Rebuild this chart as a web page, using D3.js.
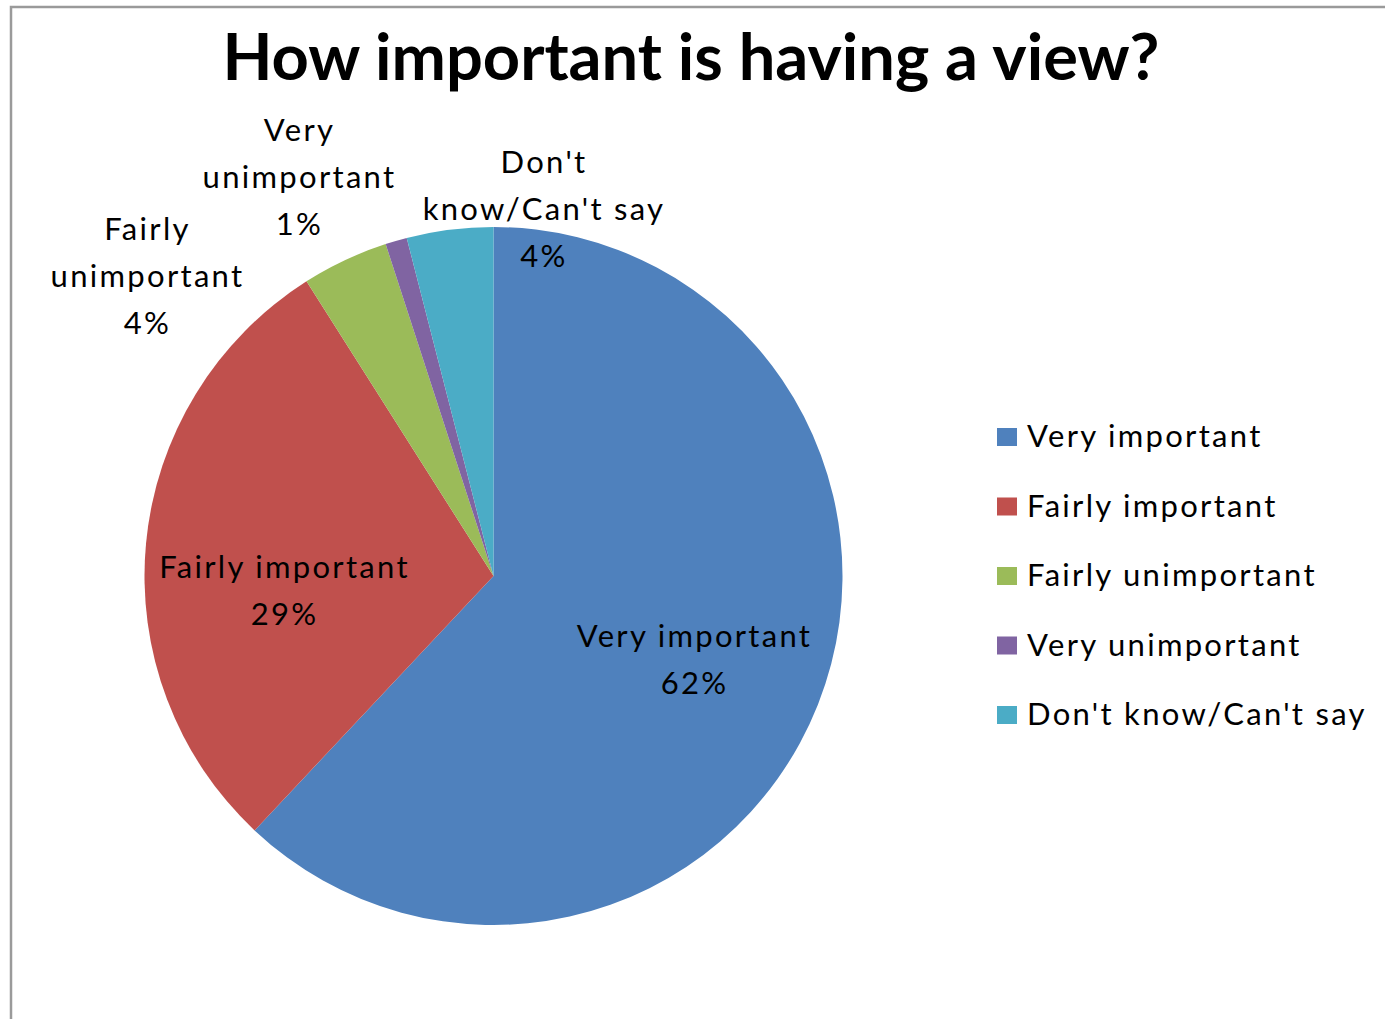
<!DOCTYPE html>
<html>
<head>
<meta charset="utf-8">
<script src="https://cdn.jsdelivr.net/npm/d3@7"></script>
<style>
  html, body { margin: 0; padding: 0; background: #fff; }
  svg { display: block; }
  text { font-family: Lato, "Liberation Sans", sans-serif; fill: #000; }
</style>
</head>
<body>
<svg id="chart" width="1385" height="1019"></svg>
<script>
// Survey responses, in drawing order (clockwise from 12 o'clock)
const categories = ["Very important", "Fairly important", "Fairly unimportant", "Very unimportant", "Don't know/Can't say"];
const percentages = [62, 29, 4, 1, 4];
const sliceColors = ["#4F81BD", "#C0504D", "#9BBB59", "#8064A2", "#4BACC6"];
const chartTitle = "How important is having a view?";

// Data-label lines per slice (category name wrapped as in the chart)
const labelLines = [
  ["Very important"],
  ["Fairly important"],
  ["Fairly", "unimportant"],
  ["Very", "unimportant"],
  ["Don't", "know/Can't say"]
];

const svg = d3.select("#chart");
const W = 1385, H = 1019;

// chart area frame
svg.append("rect")
  .attr("x", 11).attr("y", 7)
  .attr("width", W + 10).attr("height", H + 10)
  .attr("fill", "#fff")
  .attr("stroke", "#9a9a9a")
  .attr("stroke-width", 2.5);

// title
svg.append("text")
  .attr("x", 691).attr("y", 80)
  .attr("text-anchor", "middle")
  .attr("font-weight", "bold")
  .attr("font-size", 65)
  .text(chartTitle);

const cx = 493.5, cy = 576, R = 349;
const data = categories.map((c, i) => ({ name: c, value: percentages[i], color: sliceColors[i], lines: labelLines[i] }));

const pie = d3.pie().value(d => d.value).sort(null);
const arc = d3.arc().innerRadius(0).outerRadius(R);
const arcs = pie(data);

const g = svg.append("g").attr("transform", `translate(${cx},${cy})`);
g.selectAll("path.slice")
  .data(arcs)
  .join("path")
  .attr("class", "slice")
  .attr("d", arc)
  .attr("fill", d => d.data.color);

// label anchor points (centre x, first baseline) relative to the pie centre
const labelAnchor = {
  "Very important": [201, 71],
  "Fairly important": [-209, 2],
  "Fairly unimportant": [-346, -336],
  "Very unimportant": [-194, -435],
  "Don't know/Can't say": [50.5, -403]
};
const lineH = 47;
const fmt = d3.format(".0f");
const textSize = 31, tracking = 2.3;

arcs.forEach(a => {
  const [lx, ly] = labelAnchor[a.data.name];
  const lines = a.data.lines.concat([fmt(a.data.value) + "%"]);
  const t = g.append("text")
    .attr("text-anchor", "middle")
    .attr("font-size", textSize)
    .attr("letter-spacing", tracking);
  lines.forEach((s, i) => {
    t.append("tspan").attr("x", lx).attr("y", ly + i * lineH).text(s);
  });
});

// legend
const legend = svg.append("g").attr("transform", "translate(997,0)");
const rowY = d3.scalePoint().domain(categories).range([447, 725]);
const items = legend.selectAll("g.item").data(data).join("g").attr("class", "item")
  .attr("transform", d => `translate(0,${rowY(d.name)})`);
items.append("rect")
  .attr("x", 0).attr("y", -19).attr("width", 20).attr("height", 18)
  .attr("fill", d => d.color);
items.append("text")
  .attr("x", 30).attr("y", 0)
  .attr("font-size", textSize)
  .attr("letter-spacing", tracking)
  .text(d => d.name);
</script>
</body>
</html>
